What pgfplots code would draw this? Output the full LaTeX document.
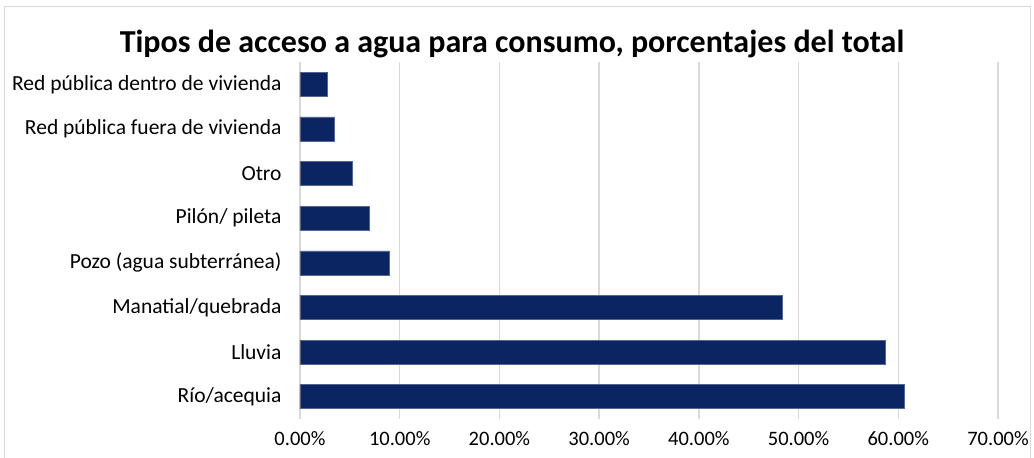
\documentclass[border=0pt]{standalone}
\usepackage{pgfplots}
\pgfplotsset{compat=1.18}
\usepackage{fontspec}
\setmainfont{Carlito}
\definecolor{barblue}{HTML}{0B2562}
\definecolor{gridgray}{HTML}{D9D9D9}
\begin{document}
\begin{tikzpicture}[x=1pt,y=1pt]
\useasboundingbox (0,0) rectangle (1034,458);
\draw[gridgray,line width=1pt] (4,-2) rectangle (1030,451);
\node[font=\fontsize{32}{36}\selectfont\bfseries] at (512,414) {Tipos de acceso a agua para consumo, porcentajes del total};
\begin{axis}[
  at={(300pt,39pt)}, anchor=south west,
  scale only axis, width=698pt, height=357pt,
  xbar, bar width=24pt,
  xmin=0, xmax=70, ymin=-0.5, ymax=7.5,
  xtick={0,10,...,70},
  xticklabels={0.00\%,10.00\%,20.00\%,30.00\%,40.00\%,50.00\%,60.00\%,70.00\%},
  ytick={0,...,7},
  yticklabels={Río/acequia,Lluvia,Manatial/quebrada,Pozo (agua subterránea),Pilón/ pileta,Otro,Red pública fuera de vivienda,Red pública dentro de vivienda},
  axis line style={draw=none},
  major tick length=0pt,
  xmajorgrids, grid style={gridgray,line width=1.3pt},
  tick label style={font=\fontsize{21.5}{24}\selectfont},
  xticklabel style={yshift=-9pt,font=\fontsize{20.5}{24}\selectfont},
  yticklabel style={xshift=-15pt},
]
\addplot[fill=barblue,draw=barblue!70!white,line width=0.5pt] coordinates {
(60.6,0) (58.7,1) (48.4,2) (8.96,3) (6.95,4) (5.2,5) (3.45,6) (2.75,7)};
\end{axis}
\end{tikzpicture}
\end{document}
